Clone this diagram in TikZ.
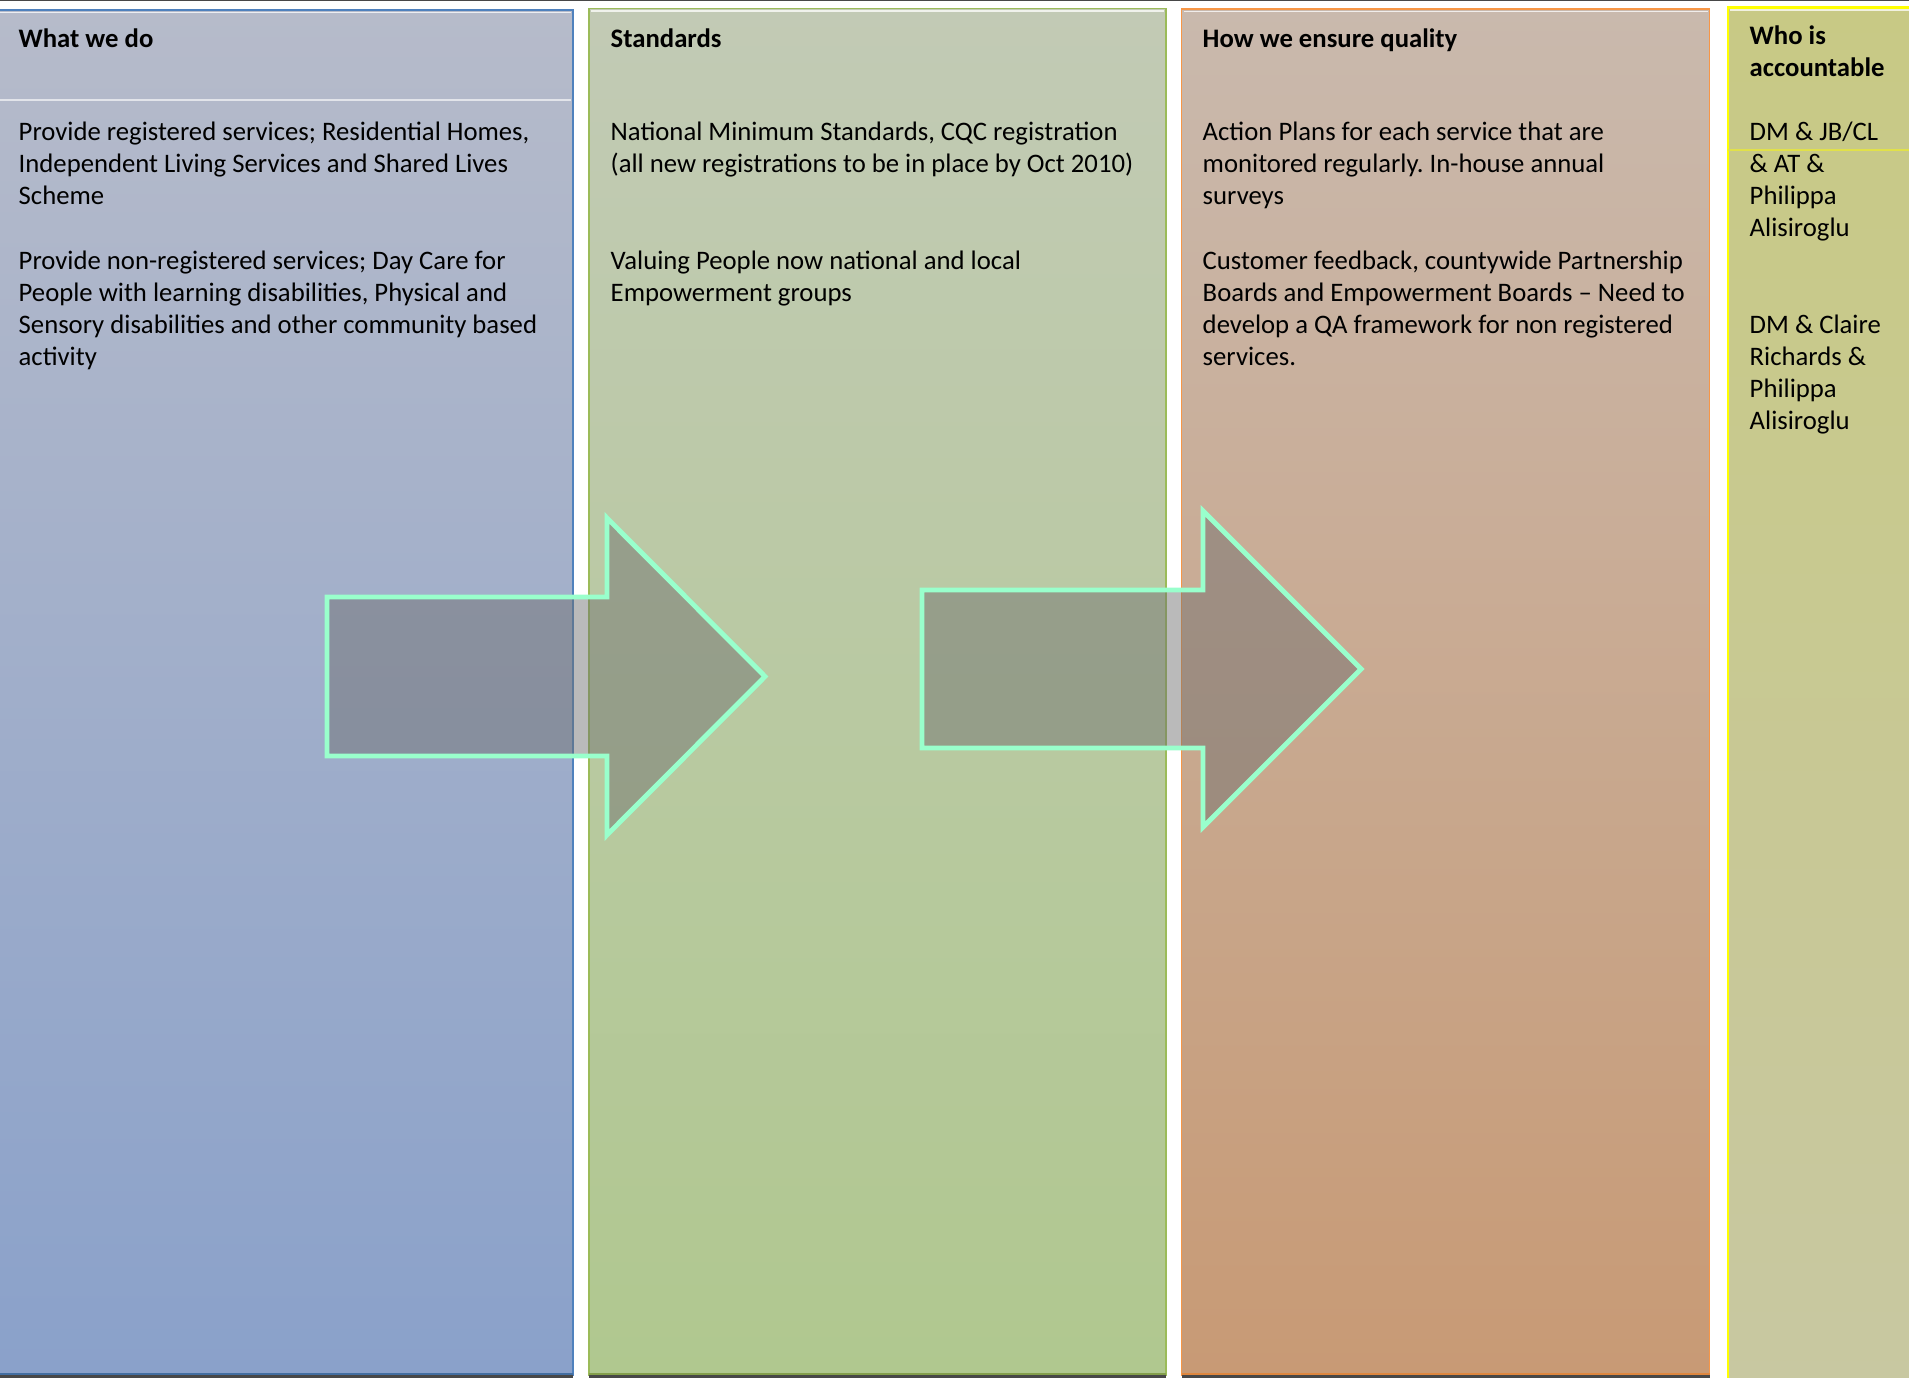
\documentclass[tikz,border=0pt]{standalone}
\usepackage{fontspec}
\setmainfont{Carlito}
\frenchspacing

\definecolor{whattop}{RGB}{182,187,202}
\definecolor{whatbot}{RGB}{138,161,202}
\definecolor{whatline}{RGB}{79,129,189}
\definecolor{stdtop}{RGB}{194,202,181}
\definecolor{stdbot}{RGB}{176,200,143}
\definecolor{stdline}{RGB}{155,187,89}
\definecolor{qatop}{RGB}{201,185,173}
\definecolor{qabot}{RGB}{200,154,117}
\definecolor{qaline}{RGB}{247,150,70}
\definecolor{whotop}{RGB}{200,201,133}
\definecolor{whobot}{RGB}{200,200,161}
\definecolor{wholine}{RGB}{255,255,0}
\definecolor{strip}{RGB}{72,72,72}
\definecolor{mint}{RGB}{153,255,204}

\begin{document}
\begin{tikzpicture}[font=\fontsize{7.6pt}{9.1pt}\selectfont,
  coltext/.style={anchor=north west,inner sep=0pt,align=left,execute at begin node=\strut},
  colhead/.style={coltext,font=\fontsize{7.6pt}{9.1pt}\selectfont\bfseries},
  blockarrow/.style={draw=mint,line width=1.4pt,fill=black!57,fill opacity=.47,line join=miter}]
  \useasboundingbox (0,0) rectangle (19.09,-13.78);
  \clip (0,0) rectangle (19.09,-13.78);
  \fill[white] (0,0) rectangle (19.09,-13.78);
  \draw[strip,line width=.5pt] (0,-.005)--(19.09,-.005);
  % what we do
  \begin{scope}
    \shade[top color=whattop,bottom color=whatbot] (-.05,-.10) rectangle (5.73,-13.75);
    \draw[whatline,line width=.45pt] (-.05,-.10) rectangle (5.73,-13.75);
    \draw[white!75!whattop,line width=.4pt] (-.05,-.125)--(5.71,-.125);
    \draw[white!60!whattop,line width=.45pt] (-.05,-1.003)--(5.71,-1.003);
    \draw[whatline!85!black,line width=.6pt] (-.05,-13.74)--(5.73,-13.74);
    \fill[strip] (-.05,-13.752) rectangle (5.73,-13.78);
    \node[colhead] (whathead) at (.18,-.245) {What we do};
    \node[coltext] (whatreg) at (.18,-1.215)
      {Provide registered services; Residential Homes,\\Independent Living Services and Shared Lives\\Scheme};
    \node[coltext] (whatnon) at (.18,-2.50)
      {Provide non-registered services; Day Care for\\People with learning disabilities, Physical and\\Sensory disabilities and other community based\\activity};
  \end{scope}
  % standards
  \begin{scope}[xshift=5.89cm]
    \shade[top color=stdtop,bottom color=stdbot] (0,-.085) rectangle (5.77,-13.75);
    \draw[stdline,line width=.45pt] (0,-.085) rectangle (5.77,-13.75);
    \draw[white!75!stdtop,line width=.4pt] (.02,-.11)--(5.75,-.11);
    \draw[stdline!85!black,line width=.6pt] (0,-13.74)--(5.77,-13.74);
    \fill[strip] (0,-13.752) rectangle (5.77,-13.78);
    \node[colhead] (stdhead) at (.21,-.245) {Standards};
    \node[coltext] (stdnms) at (.21,-1.215)
      {National Minimum Standards, CQC registration\\(all new registrations to be in place by Oct 2010)};
    \node[coltext] (stdvp) at (.21,-2.50)
      {Valuing People now national and local\\Empowerment groups};
  \end{scope}
  % how we ensure quality
  \begin{scope}[xshift=11.815cm]
    \shade[top color=qatop,bottom color=qabot] (0,-.09) rectangle (5.28,-13.75);
    \draw[qaline,line width=.45pt] (0,-.09) rectangle (5.28,-13.75);
    \draw[white!75!qatop,line width=.4pt] (.02,-.115)--(5.26,-.115);
    \draw[qaline!90!black,line width=.6pt] (0,-13.74)--(5.28,-13.74);
    \fill[strip] (0,-13.752) rectangle (5.28,-13.78);
    \node[colhead] (qahead) at (.205,-.245) {How we ensure quality};
    \node[coltext] (qaplans) at (.205,-1.215)
      {Action Plans for each service that are\\monitored regularly. In-house annual\\surveys};
    \node[coltext] (qafeed) at (.205,-2.50)
      {Customer feedback, countywide Partnership\\Boards and Empowerment Boards – Need to\\develop a QA framework for non registered\\services.};
  \end{scope}
  % who is accountable
  \begin{scope}[xshift=17.28cm]
    \shade[top color=whotop,bottom color=whobot] (0,-.075) rectangle (2.2,-13.85);
    \draw[wholine,line width=.6pt] (0,-.075) rectangle (2.2,-13.85);
    \draw[white!75!whotop,line width=.4pt] (.02,-.1)--(2.2,-.1);
    \draw[wholine!45!whotop,line width=.4pt] (0,-1.50)--(2.2,-1.50);
    \node[colhead] (whohead) at (.21,-.25) {Who is\\accountable};
    \node[coltext] (whojb) at (.21,-1.215)
      {DM \& JB/CL\\\& AT \&\\Philippa\\Alisiroglu};
    \node[coltext] (whocr) at (.21,-3.14)
      {DM \& Claire\\Richards \&\\Philippa\\Alisiroglu};
  \end{scope}
  % block arrows
  \draw[blockarrow] (3.27,-5.97)--(6.07,-5.97)--(6.07,-5.18)--(7.65,-6.765)
    --(6.07,-8.35)--(6.07,-7.56)--(3.27,-7.56)--cycle;
  \draw[blockarrow] (9.22,-5.90)--(12.03,-5.90)--(12.03,-5.11)--(13.61,-6.69)
    --(12.03,-8.27)--(12.03,-7.48)--(9.22,-7.48)--cycle;
\end{tikzpicture}
\end{document}
